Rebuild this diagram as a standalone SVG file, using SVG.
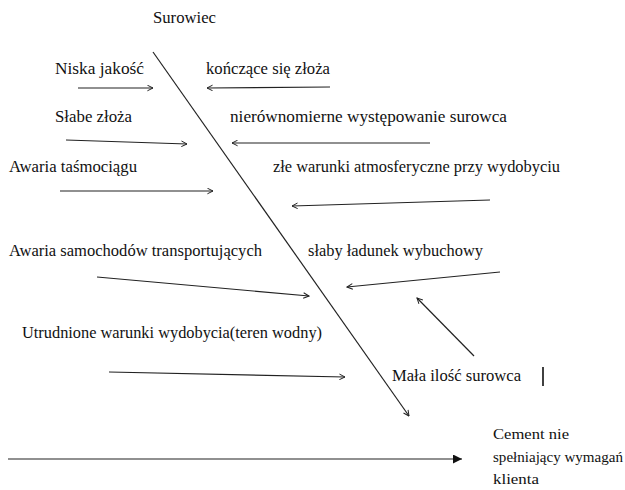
<svg xmlns="http://www.w3.org/2000/svg" width="625" height="490" viewBox="0 0 625 490">
<style>
text{font-family:'Liberation Serif','Times New Roman',serif;font-size:16px;fill:#111}
.eff{font-size:15px}
.c line{stroke:#222;stroke-width:1.2;fill:none}
.bar{stroke:#111;stroke-width:1.6}
</style>
<defs>
<marker id="open" viewBox="0 0 10 10" refX="9" refY="5" markerWidth="7" markerHeight="7" markerUnits="userSpaceOnUse" orient="auto">
<path d="M1,1 L9,5 L1,9" fill="none" stroke="#222" stroke-width="1.4"/>
</marker>
<marker id="filled" viewBox="0 0 10 10" refX="10" refY="5" markerWidth="10" markerHeight="9" markerUnits="userSpaceOnUse" orient="auto">
<path d="M0,0 L10,5 L0,10 Z" fill="#111"/>
</marker>
</defs>
<g id="effect"><text class="eff" x="493" y="439" textLength="76" lengthAdjust="spacingAndGlyphs">Cement nie</text><text class="eff" x="493" y="462" textLength="130" lengthAdjust="spacingAndGlyphs">spełniający wymagań</text><text class="eff" x="493" y="484" textLength="46" lengthAdjust="spacingAndGlyphs">klienta</text></g>
<g id="surowiec"><text x="153" y="23" textLength="63" lengthAdjust="spacingAndGlyphs">Surowiec</text></g>
<g id="niska"><text x="55" y="74" textLength="89" lengthAdjust="spacingAndGlyphs">Niska jakość</text></g>
<g id="konczace"><text x="206" y="74" textLength="124" lengthAdjust="spacingAndGlyphs">kończące się złoża</text></g>
<g id="slabe"><text x="55" y="122" textLength="77" lengthAdjust="spacingAndGlyphs">Słabe złoża</text></g>
<g id="nierown"><text x="230" y="122" textLength="277" lengthAdjust="spacingAndGlyphs">nierównomierne występowanie surowca</text></g>
<g id="awaria-t"><text x="9" y="172" textLength="128" lengthAdjust="spacingAndGlyphs">Awaria taśmociągu</text></g>
<g id="zle"><text x="273" y="172" textLength="287" lengthAdjust="spacingAndGlyphs">złe warunki atmosferyczne przy wydobyciu</text></g>
<g id="awaria-s"><text x="9" y="256" textLength="253" lengthAdjust="spacingAndGlyphs">Awaria samochodów transportujących</text></g>
<g id="slaby"><text x="308" y="256" textLength="175" lengthAdjust="spacingAndGlyphs">słaby ładunek wybuchowy</text></g>
<g id="utrudnione"><text x="22" y="338" textLength="300" lengthAdjust="spacingAndGlyphs">Utrudnione warunki wydobycia(teren wodny)</text></g>
<g id="mala"><text x="392" y="381" textLength="129" lengthAdjust="spacingAndGlyphs">Mała ilość surowca</text><line class="bar" x1="543" y1="367" x2="543" y2="386"/></g>
<g id="connectors" class="c">
<line x1="8" y1="459" x2="462" y2="459" marker-end="url(#filled)"/>
<line x1="153" y1="52" x2="409" y2="416" marker-end="url(#open)"/>
<line x1="78" y1="88" x2="153" y2="88" marker-end="url(#open)"/>
<line x1="330" y1="87" x2="207" y2="88" marker-end="url(#open)"/>
<line x1="66" y1="140" x2="187" y2="144" marker-end="url(#open)"/>
<line x1="430" y1="143" x2="232" y2="143" marker-end="url(#open)"/>
<line x1="60" y1="191" x2="213" y2="191" marker-end="url(#open)"/>
<line x1="490" y1="200" x2="292" y2="206" marker-end="url(#open)"/>
<line x1="97" y1="277" x2="309" y2="296" marker-end="url(#open)"/>
<line x1="500" y1="272" x2="347" y2="287" marker-end="url(#open)"/>
<line x1="474" y1="356" x2="417" y2="298" marker-end="url(#open)"/>
<line x1="109" y1="372" x2="345" y2="377" marker-end="url(#open)"/>
</g>
</svg>
